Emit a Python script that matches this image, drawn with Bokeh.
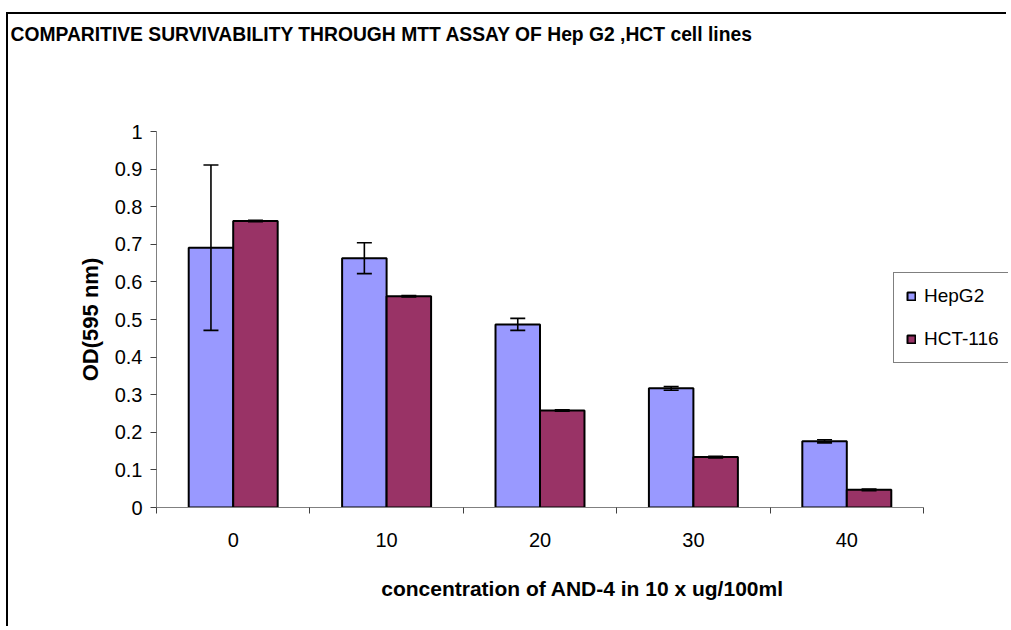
from bokeh.plotting import figure
from bokeh.models import ColumnDataSource, Whisker, TeeHead, Legend, LegendItem, FixedTicker, Title
from bokeh.transform import dodge
from bokeh.embed import file_html
from bokeh.resources import INLINE

# ---- data ----
categories = ["0", "10", "20", "30", "40"]
series_names = ["HepG2", "HCT-116"]
hepg2 = [0.691, 0.663, 0.487, 0.317, 0.176]
hepg2_err = [0.220, 0.041, 0.016, 0.005, 0.004]
hct116 = [0.762, 0.562, 0.258, 0.134, 0.047]
hct116_err = [0.002, 0.002, 0.002, 0.002, 0.002]
y_ticks = [0, 0.1, 0.2, 0.3, 0.4, 0.5, 0.6, 0.7, 0.8, 0.9, 1]
y_tick_labels = ["0", "0.1", "0.2", "0.3", "0.4", "0.5", "0.6", "0.7", "0.8", "0.9", "1"]
title_text = "COMPARITIVE SURVIVABILITY THROUGH MTT ASSAY OF Hep G2 ,HCT cell lines"
x_label = "concentration of AND-4 in 10 x ug/100ml"
y_label = "OD(595 nm)"

FONT = "Liberation Sans"
BLUE = "#9999FF"
RED = "#993366"

n = len(categories)
centers = [i + 0.5 for i in range(n)]
src = ColumnDataSource(dict(
    x=centers,
    h=hepg2, h_up=[v + e for v, e in zip(hepg2, hepg2_err)], h_lo=[v - e for v, e in zip(hepg2, hepg2_err)],
    c=hct116, c_up=[v + e for v, e in zip(hct116, hct116_err)], c_lo=[v - e for v, e in zip(hct116, hct116_err)],
))

# layout (pixels)
W, H = 1000, 614
LEFT, TOP, BOTTOM = 148, 117, 121
AXIS_W = 767                      # pixel length of the category axis
frame_w = W - LEFT
x_end = n * frame_w / AXIS_W      # frame extends past the axis so the legend can sit there

p = figure(width=W, height=H, x_range=(0, x_end), y_range=(0, 1),
           output_backend="svg", toolbar_location=None,
           min_border_left=LEFT, min_border_right=0,
           min_border_top=TOP, min_border_bottom=BOTTOM)
p.styles = {"margin-left": "6px", "margin-top": "12px",
            "border-left": "2px solid #000", "border-top": "2px solid #000"}
p.outline_line_color = None
p.xgrid.visible = False
p.ygrid.visible = False
p.background_fill_color = "white"
p.border_fill_color = "white"

OFF = 0.145
BW = 0.29
r1 = p.vbar(x=dodge("x", -OFF), top="h", width=BW, source=src,
            fill_color=BLUE, line_color="black", line_width=2)
r2 = p.vbar(x=dodge("x", OFF), top="c", width=BW, source=src,
            fill_color=RED, line_color="black", line_width=2)

for base_off, up, lo in [(-OFF, "h_up", "h_lo"), (OFF, "c_up", "c_lo")]:
    w = Whisker(source=src, base=dodge("x", base_off), upper=up, lower=lo,
                line_color="black", line_width=1.6, level="overlay",
                upper_head=TeeHead(size=15, line_color="black", line_width=1.6),
                lower_head=TeeHead(size=15, line_color="black", line_width=1.6))
    p.add_layout(w)

# title: the plot title sits outermost; a blank spacer title keeps it away from the frame
p.title.text = title_text
p.title.align = "left"
p.title.offset = -(LEFT - 2)
p.title.standoff = 0
p.title.text_font = FONT
p.title.text_font_size = "19.3px"
p.title.text_font_style = "bold"
p.title.text_color = "black"
spacer = Title(text=" ", text_font_size="10px", standoff=74)
p.add_layout(spacer, "above")

# y axis
ya = p.yaxis[0]
ya.ticker = FixedTicker(ticks=y_ticks)
ya.major_label_overrides = {t: lab for t, lab in zip(y_ticks, y_tick_labels)}
ya.axis_line_color = "#808080"
ya.major_tick_line_color = "#404040"
ya.major_tick_out = 6
ya.major_tick_in = 0
ya.minor_tick_line_color = None
ya.major_label_standoff = 8
ya.major_label_text_font = FONT
ya.major_label_text_font_size = "20px"
ya.major_label_text_color = "black"
ya.axis_label = y_label
ya.axis_label_text_font = FONT
ya.axis_label_text_font_size = "22px"
ya.axis_label_text_font_style = "bold"
ya.axis_label_text_color = "black"
ya.axis_label_standoff = 9

# x axis
xa = p.xaxis[0]
xa.bounds = (0, n)
xa.ticker = FixedTicker(ticks=centers, minor_ticks=list(range(n + 1)))
xa.major_label_overrides = {c: lab for c, lab in zip(centers, categories)}
xa.axis_line_color = "#808080"
xa.major_tick_line_color = None
xa.major_tick_out = 0
xa.major_tick_in = 0
xa.minor_tick_line_color = "#404040"
xa.minor_tick_out = 6
xa.minor_tick_in = 0
xa.major_label_standoff = 19
xa.major_label_text_font = FONT
xa.major_label_text_font_size = "20px"
xa.major_label_text_color = "black"
xa.axis_label = x_label
xa.axis_label_text_font = FONT
xa.axis_label_text_font_size = "21px"
xa.axis_label_text_font_style = "bold"
xa.axis_label_text_color = "black"
xa.axis_label_standoff = 27

legend = Legend(items=[LegendItem(label=series_names[0], renderers=[r1]),
                       LegendItem(label=series_names[1], renderers=[r2])],
                location=(737, 144), orientation="vertical")
legend.border_line_color = "black"
legend.border_line_width = 1
legend.background_fill_color = "white"
legend.background_fill_alpha = 1
legend.label_text_font = FONT
legend.label_text_font_size = "19px"
legend.label_text_color = "black"
legend.glyph_width = 10
legend.glyph_height = 10
legend.label_height = 20
legend.label_standoff = 8
legend.spacing = 21
legend.padding = 12
legend.margin = 0
p.add_layout(legend, "center")

open("out.html", "w").write(file_html(p, INLINE))
